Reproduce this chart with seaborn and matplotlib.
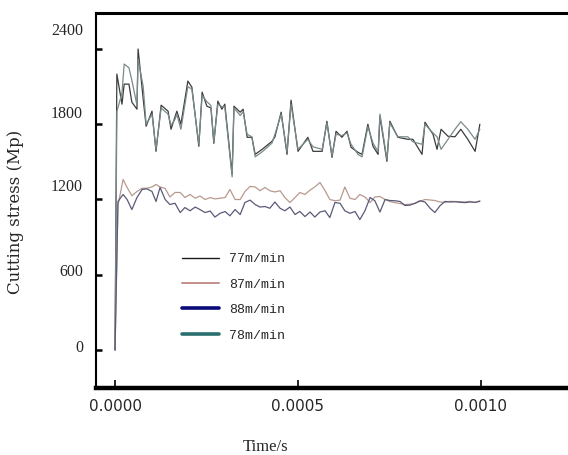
import numpy as np
import pandas as pd
import matplotlib
matplotlib.use("Agg")
import matplotlib.pyplot as plt
import matplotlib.transforms as mtransforms
from matplotlib.lines import Line2D
import seaborn as sns

# time in microseconds
t_high_us = [0, 5, 19, 25, 38, 46, 60, 63, 77, 85, 101, 112, 126, 145, 153, 164, 169, 180,
             199, 210, 229, 238, 251, 262, 270, 281, 292, 300, 320, 325, 342, 350, 361, 374,
             383, 402, 429, 437, 454, 470, 481, 500, 527, 541, 566, 579, 593, 604, 620, 634,
             645, 664, 675, 691, 705, 719, 724, 743, 751, 773, 800, 814, 839, 847, 869, 880,
             891, 910, 929, 945, 964, 984, 997]
stress_77 = [0, 2200, 1960, 2120, 2120, 1976, 1920, 2400, 2000, 1784, 1904, 1584, 1952, 1904,
             1760, 1860, 1904, 1800, 2144, 2096, 1624, 2056, 1944, 1930, 1648, 1984, 1920, 1960,
             1400, 1944, 1896, 1920, 1696, 1696, 1560, 1600, 1664, 1700, 1896, 1560, 1992, 1584,
             1696, 1584, 1584, 1824, 1536, 1744, 1696, 1744, 1616, 1576, 1560, 1800, 1624, 1560,
             1864, 1504, 1824, 1696, 1680, 1680, 1560, 1816, 1720, 1600, 1760, 1704, 1700, 1760,
             1680, 1584, 1800]
stress_78 = [0, 1900, 2050, 2280, 2250, 2150, 1950, 2320, 2100, 1800, 1880, 1600, 1930, 1880,
             1790, 1840, 1880, 1760, 2100, 2080, 1640, 2030, 1980, 1950, 1660, 1960, 1940, 1940,
             1380, 1930, 1870, 1900, 1720, 1700, 1540, 1580, 1650, 1720, 1880, 1580, 1960, 1600,
             1680, 1620, 1600, 1810, 1550, 1720, 1710, 1730, 1640, 1560, 1540, 1780, 1650, 1580,
             1880, 1520, 1810, 1700, 1700, 1660, 1640, 1800, 1730, 1700, 1600, 1680, 1760, 1820,
             1760, 1680, 1760]

t_low_us = [0, 8, 22, 33, 46, 60, 74, 87, 101, 112, 123, 137, 150, 164, 178, 191, 205, 219,
            232, 246, 260, 273, 287, 301, 314, 328, 342, 355, 369, 383, 396, 410, 423, 437,
            451, 464, 478, 492, 505, 519, 533, 546, 560, 574, 587, 601, 615, 628, 642, 656,
            669, 683, 697, 710, 724, 738, 751, 765, 779, 792, 806, 820, 833, 847, 861, 874,
            888, 902, 915, 929, 943, 956, 970, 984, 997]
stress_87 = [0, 1150, 1360, 1296, 1230, 1264, 1290, 1290, 1300, 1320, 1300, 1288, 1220, 1256,
             1256, 1216, 1240, 1210, 1228, 1200, 1215, 1205, 1210, 1216, 1280, 1200, 1200, 1264,
             1304, 1300, 1270, 1296, 1270, 1260, 1270, 1216, 1176, 1216, 1256, 1240, 1275, 1300,
             1336, 1270, 1200, 1190, 1195, 1300, 1210, 1200, 1240, 1220, 1176, 1220, 1224, 1200,
             1184, 1175, 1168, 1160, 1162, 1170, 1185, 1200, 1196, 1192, 1180, 1178, 1185, 1184,
             1182, 1180, 1185, 1175, 1190]
stress_88 = [0, 1184, 1240, 1200, 1120, 1216, 1280, 1285, 1264, 1184, 1296, 1200, 1160, 1170,
             1096, 1136, 1110, 1140, 1120, 1096, 1108, 1060, 1090, 1104, 1070, 1120, 1080, 1176,
             1195, 1160, 1140, 1144, 1130, 1180, 1130, 1110, 1140, 1080, 1105, 1064, 1100, 1060,
             1100, 1110, 1056, 1176, 1170, 1110, 1090, 1104, 1040, 1110, 1216, 1190, 1100, 1200,
             1192, 1190, 1184, 1152, 1155, 1170, 1190, 1180, 1130, 1096, 1150, 1185, 1180, 1182,
             1178, 1175, 1180, 1178, 1185]

speeds = ["77m/min", "87m/min", "88m/min", "78m/min"]
line_colors = {"77m/min": "#3c3c3c", "87m/min": "#b89a8e",
               "88m/min": "#5a5a78", "78m/min": "#7a8a8a"}
legend_colors = ["#1a1a1a", "#c48e8a", "#0a0a78", "#2a6e6e"]
legend_widths = [1.0, 1.4, 2.6, 2.6]

yticks = [0, 600, 1200, 1800, 2400]
xticks = [0.0, 0.0005, 0.0010]
xtick_labels = ["0.0000", "0.0005", "0.0010"]

parts = []
for name, t, v in [("77m/min", t_high_us, stress_77), ("78m/min", t_high_us, stress_78),
                   ("87m/min", t_low_us, stress_87), ("88m/min", t_low_us, stress_88)]:
    parts.append(pd.DataFrame({"time": np.array(t) * 1e-6, "stress": v, "speed": name}))
df = pd.concat(parts, ignore_index=True)

sns.set_style("white")
plt.rcParams["font.family"] = ["Liberation Serif", "DejaVu Serif"]

fig = plt.figure(figsize=(5.68, 4.55), dpi=100)
ax = fig.add_axes([96 / 568, 1 - 388 / 455, 479 / 568, 375 / 455])

sns.lineplot(data=df, x="time", y="stress", hue="speed", palette=line_colors,
             hue_order=["77m/min", "78m/min", "87m/min", "88m/min"],
             estimator=None, sort=False, linewidth=0.9, legend=False, ax=ax)

ax.set_xlim(-0.000052, 0.001257)
ax.set_ylim(-303, 2687)

ax.spines["right"].set_visible(False)
ax.spines["left"].set_linewidth(1.5)
ax.spines["top"].set_linewidth(2.2)
ax.spines["bottom"].set_linewidth(3.2)
for s in ax.spines.values():
    s.set_color("black")

ax.set_xticks(xticks)
ax.set_xticklabels(xtick_labels, fontfamily="DejaVu Sans", fontsize=11)
ax.tick_params(axis="x", bottom=True, direction="in", length=6, width=1.2, pad=8,
               color="black")
ax.set_yticks(yticks)
ax.set_yticklabels([])
ax.tick_params(axis="y", left=True, direction="in", length=4, width=1.8, color="black")

# y tick labels sit a bit above their ticks in the original scan
label_lift = [2, 3, 12, 10, 18]
for val, lift in zip(yticks, label_lift):
    tr = mtransforms.blended_transform_factory(ax.transAxes, ax.transData) + \
        mtransforms.ScaledTranslation(-13 / 100, lift / 100, fig.dpi_scale_trans)
    ax.text(0, val, str(val), transform=tr, ha="right", va="center", fontsize=11.5)

ax.set_xlabel("Time/s", fontsize=12)
ax.xaxis.set_label_coords(0.353, -0.135)
ax.set_ylabel("Cutting stress (Mp)", fontsize=12, fontfamily="DejaVu Serif")
ax.yaxis.set_label_coords(-0.15, 0.47)

handles = [Line2D([], [], color=c, lw=w) for c, w in zip(legend_colors, legend_widths)]
ax.legend(handles, speeds, loc="upper left", bbox_to_anchor=(0.1795, 0.36),
          frameon=False, borderpad=0, borderaxespad=0, handlelength=2.8,
          handletextpad=0.8, labelspacing=1.0,
          prop={"family": "Liberation Mono", "size": 9.5})

fig.savefig("out.png", dpi=100)
